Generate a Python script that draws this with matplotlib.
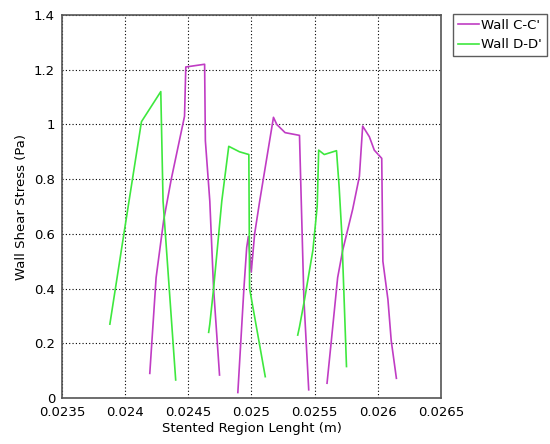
import matplotlib
matplotlib.use("Agg")
import matplotlib.pyplot as plt
import numpy as np

# Wall C-C' (three pieces)
cc_x1 = [0.024195, 0.024245, 0.024305, 0.024365, 0.024470, 0.024480, 0.024629, 0.024635, 0.024670, 0.024700, 0.024747]
cc_y1 = [0.09, 0.44, 0.65, 0.80, 1.03, 1.21, 1.22, 0.94, 0.72, 0.40, 0.084]
cc_x2 = [0.024892, 0.024940, 0.024962, 0.024975, 0.024998, 0.025025, 0.025065, 0.025174, 0.025200, 0.025266, 0.025380, 0.025391, 0.025415, 0.025453]
cc_y2 = [0.02, 0.40, 0.55, 0.59, 0.46, 0.60, 0.72, 1.026, 1.00, 0.97, 0.96, 0.77, 0.36, 0.03]
cc_x3 = [0.025598, 0.025630, 0.025682, 0.025722, 0.025801, 0.025854, 0.025880, 0.025933, 0.025972, 0.026031, 0.026040, 0.026080, 0.026106, 0.026147]
cc_y3 = [0.054, 0.20, 0.44, 0.54, 0.69, 0.81, 0.994, 0.955, 0.906, 0.876, 0.50, 0.36, 0.21, 0.072]

# Wall D-D'
dd_x1 = [0.023879, 0.023990, 0.024129, 0.024282, 0.024300, 0.024400]
dd_y1 = [0.27, 0.60, 1.01, 1.12, 0.72, 0.066]
dd_x2 = [0.024661, 0.024670, 0.024700, 0.024765, 0.024820, 0.024905, 0.024979, 0.024985, 0.025109]
dd_y2 = [0.24, 0.27, 0.40, 0.72, 0.92, 0.90, 0.89, 0.40, 0.078]
dd_x3 = [0.025366, 0.025380, 0.025420, 0.025486, 0.025520, 0.025532, 0.025576, 0.025673, 0.025694, 0.025715, 0.025752]
dd_y3 = [0.23, 0.26, 0.36, 0.54, 0.70, 0.906, 0.89, 0.904, 0.77, 0.60, 0.115]

magenta = "#c03cc4"
green = "#3ee83e"

fig = plt.figure(figsize=(5.5, 4.44), dpi=100)
ax = fig.add_axes([0.1127, 0.1036, 0.6891, 0.8626])

l1, = ax.plot(cc_x1, cc_y1, color=magenta, lw=1.2, label="Wall C-C'")
ax.plot(cc_x2, cc_y2, color=magenta, lw=1.2)
ax.plot(cc_x3, cc_y3, color=magenta, lw=1.2)
l2, = ax.plot(dd_x1, dd_y1, color=green, lw=1.2, label="Wall D-D'")
ax.plot(dd_x2, dd_y2, color=green, lw=1.2)
ax.plot(dd_x3, dd_y3, color=green, lw=1.2)

ax.set_xlim(0.0235, 0.0265)
ax.set_ylim(0, 1.4)
xt = [0.0235, 0.024, 0.0245, 0.025, 0.0255, 0.026, 0.0265]
ax.set_xticks(xt)
ax.set_xticklabels(["0.0235", "0.024", "0.0245", "0.025", "0.0255", "0.026", "0.0265"])
yt = [0, 0.2, 0.4, 0.6, 0.8, 1.0, 1.2, 1.4]
ax.set_yticks(yt)
ax.set_yticklabels(["0", "0.2", "0.4", "0.6", "0.8", "1", "1.2", "1.4"])
ax.tick_params(labelsize=9.5, length=0)
ax.tick_params(axis="x", pad=6)
ax.tick_params(axis="y", pad=5)
ax.grid(True, color="black", linestyle=(0, (1, 2)), linewidth=0.8)
for s in ax.spines.values():
    s.set_color("#555555")
    s.set_linewidth(1.2)

ax.set_xlabel("Stented Region Lenght (m)", fontsize=9.5, labelpad=2)
ax.set_ylabel("Wall Shear Stress (Pa)", fontsize=9.5, labelpad=4)

fig.legend(handles=[l1, l2], loc="upper left", bbox_to_anchor=(453 / 550, 1 - 14 / 444),
           fontsize=9.5, frameon=True, fancybox=False, edgecolor="#333333",
           handlelength=1.6, handletextpad=0.2, borderpad=0.35, labelspacing=0.5,
           borderaxespad=0)

fig.savefig("out.png", dpi=100)
